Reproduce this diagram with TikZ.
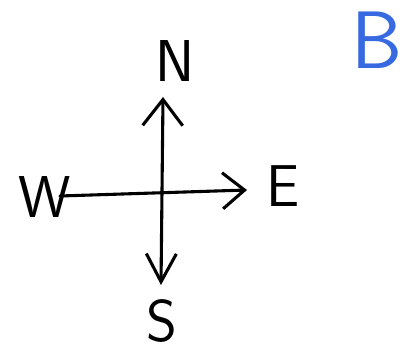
\documentclass[tikz,border=0pt]{standalone}
\usepackage{tikz}
\usetikzlibrary{arrows.meta}
\definecolor{penblue}{RGB}{55,105,225}
\tikzset{
  letter/.style={font=\sffamily\fontsize{42}{42}\selectfont,inner sep=0pt},
  pen/.style={line width=2.2pt,line cap=round,line join=round}
}

\begin{document}
\begin{tikzpicture}
    \useasboundingbox (0,0) rectangle (10.225,9);

    \node[letter] (n) at (4.375,7.475) {N};
    \node[letter] (s) at (4.05,0.975) {S};
    \node[letter] (w) at (1.125,4.075) {W};
    \node[letter] (e) at (7.075,4.35) {E};
    \node[letter,text=penblue,font=\sffamily\fontsize{58}{58}\selectfont] (b) at (9.425,8.0) {B};

    \coordinate (ntip) at (4.075,6.575);
    \coordinate (stip) at (4.025,1.875);
    \coordinate (wend) at (1.5,4.1);
    \coordinate (etip) at (6.175,4.25);

    \path[pen]
    (ntip) edge [{Straight Barb[length=0.65cm,width=1cm]}-{Straight Barb[length=0.7cm,width=0.75cm]}] (stip)
    (wend) edge [-{Straight Barb[length=0.55cm,width=0.9cm]}] (etip);

\end{tikzpicture}
\end{document}
